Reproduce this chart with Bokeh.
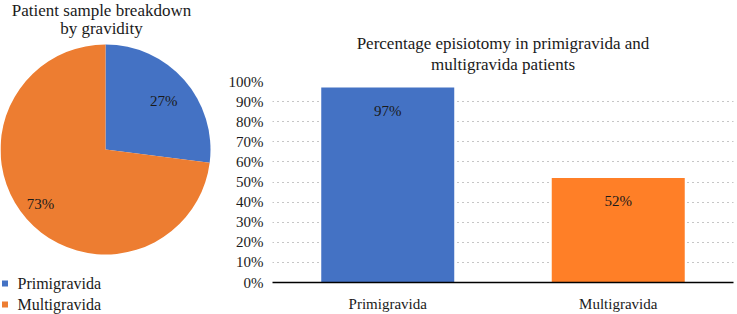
import math
from bokeh.plotting import figure
from bokeh.layouts import row
from bokeh.models import Range1d, FactorRange, ColumnDataSource, Label, Title, FixedTicker, PrintfTickFormatter
from bokeh.embed import file_html
from bokeh.resources import INLINE
from bokeh.core.properties import value

# ---------------- data ----------------
pie_title = ["Patient sample breakdown", "by gravidity"]
pie_categories = ["Primigravida", "Multigravida"]
pie_values = [27, 73]
pie_colors = ["#4472C4", "#ED7D31"]

bar_title = ["Percentage episiotomy in primigravida and", "multigravida patients"]
bar_categories = ["Primigravida", "Multigravida"]
bar_values = [97, 52]
bar_colors = ["#4472C4", "#FF7F27"]

y_ticks = [0, 10, 20, 30, 40, 50, 60, 70, 80, 90, 100]

FONT = "Liberation Serif"
TXT = "#1a1a1a"

# ---------------- pie ----------------
W1, H1 = 220, 314
p1 = figure(width=W1, height=H1, x_range=Range1d(0, W1), y_range=Range1d(0, H1),
            output_backend="svg", toolbar_location=None, min_border=0)
p1.frame_align = False
p1.axis.visible = False
p1.grid.visible = False
p1.outline_line_color = None

cx, cy, R = 105, 165, 105
total = sum(pie_values)
starts, ends, lx, ly, ltxt = [], [], [], [], []
label_angles = [40, 220]   # label placement (deg)
label_r = [76, 85]
cum = 0
for i, v in enumerate(pie_values):
    starts.append(math.pi / 2 - 2 * math.pi * (cum + v) / total)
    ends.append(math.pi / 2 - 2 * math.pi * cum / total)
    cum += v
    a = math.radians(label_angles[i])
    lx.append(cx + label_r[i] * math.cos(a))
    ly.append(cy + label_r[i] * math.sin(a))
    ltxt.append(f"{v}%")

src = ColumnDataSource(dict(start=starts, end=ends, color=pie_colors,
                            x=[cx] * len(pie_values), y=[cy] * len(pie_values)))
p1.wedge(x="x", y="y", radius=R, start_angle="start", end_angle="end",
         fill_color="color", line_color=None, source=src)
p1.text(x=lx, y=ly, text=ltxt, text_align="center", text_baseline="middle",
        text_font=value(FONT), text_font_size="15px", text_color=TXT)

for i, t in enumerate(pie_title):
    p1.add_layout(Label(x=101, y=[304, 286][i], text=t, text_align="center",
                        text_baseline="middle", text_font=FONT,
                        text_font_size="17px", text_color=TXT))

leg_y = [31, 10]
p1.scatter(x=[4.5] * 2, y=leg_y, marker="square", size=6, fill_color=pie_colors, line_color=None)
p1.text(x=[17] * 2, y=leg_y, text=pie_categories, text_align="left", text_baseline="middle",
        text_font=value(FONT), text_font_size="16px", text_color=TXT)

# ---------------- bar ----------------
p2 = figure(width=517, height=314, x_range=FactorRange(factors=bar_categories),
            y_range=Range1d(0, 100), output_backend="svg", toolbar_location=None,
            min_border_left=52, min_border_right=4, min_border_top=81, min_border_bottom=26)
p2.frame_align = False
p2.title = None
p2.outline_line_color = None
p2.xgrid.visible = False
p2.ygrid.ticker = FixedTicker(ticks=y_ticks)
p2.ygrid.grid_line_color = "#8c8c8c"
p2.ygrid.grid_line_dash = "1 4"
p2.ygrid.grid_line_width = 1

p2.yaxis.ticker = FixedTicker(ticks=y_ticks)
p2.yaxis.formatter = PrintfTickFormatter(format="%d%%")
p2.yaxis.axis_line_color = None
p2.yaxis.major_tick_line_color = None
p2.yaxis.minor_tick_line_color = None
p2.yaxis.major_label_standoff = 3
p2.xaxis.axis_line_color = "#000000"
p2.xaxis.axis_line_width = 1.5
p2.xaxis.major_tick_line_color = None
p2.xaxis.major_label_standoff = 7
for ax in (p2.xaxis, p2.yaxis):
    ax.major_label_text_font = FONT
    ax.major_label_text_font_size = "15px"
    ax.major_label_text_color = TXT

bsrc = ColumnDataSource(dict(x=bar_categories, top=bar_values, color=bar_colors,
                             lab=[f"{v}%" for v in bar_values]))
p2.vbar(x="x", top="top", width=0.577, fill_color="color", line_color=None, source=bsrc)
p2.text(x="x", y="top", text="lab", y_offset=23, text_align="center", text_baseline="middle",
        text_font=value(FONT), text_font_size="15px", text_color=TXT, source=bsrc)

# spacer between frame and title block
p2.add_layout(Title(text=" ", text_font_size="5px", standoff=0), "above")
# title lines: added nearest-first
for t in reversed(bar_title):
    p2.add_layout(Title(text=t, align="center", text_font=FONT, text_font_size="17px",
                        text_font_style="normal", text_color=TXT, standoff=0), "above")

layout = row(p1, p2)
open("out.html", "w").write(file_html(layout, INLINE))
